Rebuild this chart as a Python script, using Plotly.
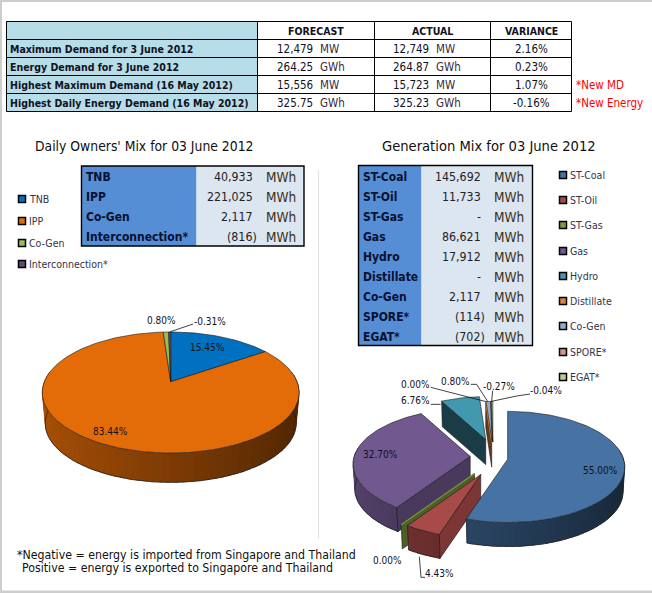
import math
import plotly.graph_objects as go

# ---------- data ----------
table_rows = ["Maximum Demand for 3 June 2012", "Energy Demand for 3 June 2012",
              "Highest Maximum Demand (16 May 2012)", "Highest Daily Energy Demand (16 May 2012)"]
table_heads = ["FORECAST", "ACTUAL", "VARIANCE"]
forecast = ["12,479", "264.25", "15,556", "325.75"]
actual = ["12,749", "264.87", "15,723", "325.23"]
units = ["MW", "GWh", "MW", "GWh"]
variance = ["2.16%", "0.23%", "1.07%", "-0.16%"]
notes = ["", "", "*New MD", "*New Energy"]

owner_names = ["TNB", "IPP", "Co-Gen", "Interconnection*"]
owner_mwh = ["40,933", "221,025", "2,117", "(816)"]
owner_pct = [15.45, 83.44, 0.80, -0.31]
owner_colors = ["#0070C0", "#E36C09", "#9BBB59", "#604A7B"]

gen_names = ["ST-Coal", "ST-Oil", "ST-Gas", "Gas", "Hydro", "Distillate", "Co-Gen", "SPORE*", "EGAT*"]
gen_mwh = ["145,692", "11,733", "-", "86,621", "17,912", "-", "2,117", "(114)", "(702)"]
gen_pct = [55.00, 4.43, 0.00, 32.70, 6.76, 0.00, 0.80, -0.04, -0.27]
gen_colors = ["#4672A4", "#A84A48", "#7E9A3E", "#71588F", "#4198AF", "#DB843D", "#93A9CF", "#D19392", "#B9CD96"]

# ---------- helpers ----------
FONT = "DejaVu Sans Condensed"
INK = "#111122"
fig = go.Figure()
shapes, notes_out = [], []


def text(x, y, s, size=11, color=INK, anchor="left", bold=False):
    notes_out.append(dict(x=x, y=y, xref="x", yref="y", text=f"<b>{s}</b>" if bold else s,
                          showarrow=False, xanchor=anchor, yanchor="middle", borderpad=0,
                          font=dict(family=FONT, size=size, color=color)))


def rect(x0, y0, x1, y1, fill=None, line="#000000", w=1):
    shapes.append(dict(type="rect", x0=x0, y0=y0, x1=x1, y1=y1, xref="x", yref="y",
                       fillcolor=fill or "rgba(0,0,0,0)",
                       line=dict(color=line, width=w) if w else dict(width=0), layer="below"))


def hline(x0, y0, x1, y1, color="#000000", w=1):
    shapes.append(dict(type="line", x0=x0, y0=y0, x1=x1, y1=y1, xref="x", yref="y",
                       line=dict(color=color, width=w), layer="below"))


def shade(hexc, k):
    r, g, b = int(hexc[1:3], 16), int(hexc[3:5], 16), int(hexc[5:7], 16)
    return f"rgb({int(r * k)},{int(g * k)},{int(b * k)})"


def poly(pts, fill, line=None, w=0.6):
    xs = [p[0] for p in pts] + [pts[0][0]]
    ys = [p[1] for p in pts] + [pts[0][1]]
    fig.add_trace(go.Scatter(x=xs, y=ys, mode="lines", fill="toself", fillcolor=fill,
                             line=dict(color=line or fill, width=w), hoverinfo="skip", showlegend=False))


def path(pts, color="#222222", w=0.8):
    fig.add_trace(go.Scatter(x=[p[0] for p in pts], y=[p[1] for p in pts], mode="lines",
                             line=dict(color=color, width=w), hoverinfo="skip", showlegend=False))


class Pie:
    """Tilted pie with perspective; angles clockwise from 12 o'clock, in degrees."""

    def __init__(self, a, b, p, depth, k):
        self.a, self.b, self.p, self.depth, self.k = a, b, p, depth, k
        self.s = 1.0

    def top(self, ang, o):
        t = math.radians(ang)
        f = self.s / (1 + self.p * math.cos(t))
        return (o[0] + self.a * math.sin(t) * f, o[1] - self.b * math.cos(t) * f)

    def low(self, ang, o):
        x, y = self.top(ang, o)
        return (o[0] + (x - o[0]) * self.k, o[1] + (y - o[1]) * self.k + self.depth)

    def arc(self, a0, a1, fn, o):
        n = max(2, int(abs(a1 - a0) / 1.5) + 1)
        return [fn(a0 + (a1 - a0) * i / n, o) for i in range(n + 1)]

    def face(self, a0, a1, o, color):
        poly([o] + self.arc(a0, a1, self.top, o), color, "#1a1a1a", 0.6)

    def wall(self, a0, a1, o, color):
        lo, hi = max(a0, 80), min(a1, 280)
        if hi <= lo:
            return
        n = max(1, int((hi - lo) / 3))
        for i in range(n):
            u0 = lo + (hi - lo) * i / n
            u1 = min(hi, lo + (hi - lo) * (i + 1.6) / n)
            k = 0.55 - 0.2 * math.sin(math.radians(lo + (hi - lo) * (i + 0.5) / n))
            ends = [self.top(u0, o), self.top(u1, o), self.low(u1, o), self.low(u0, o)]
            poly(ends, shade(color, k), shade(color, k), 0.2)
        path(self.arc(lo, hi, self.low, o))
        if lo == a0:
            path([self.top(lo, o), self.low(lo, o)])
        if hi == a1:
            path([self.top(hi, o), self.low(hi, o)])

    def side(self, ang, o, color, k):
        poly([o, self.top(ang, o), self.low(ang, o), (o[0], o[1] + self.depth)], shade(color, k), "#1a1a1a", 0.6)


# ---------- frame ----------
rect(0, 0, 2, 593, "#CDCDCD", w=0)
rect(0, 0, 652, 2, "#CDCDCD", w=0)
rect(0, 590.5, 652, 593, "#CDCDCD", w=0)
hline(318.5, 170, 318.5, 539, "#E4E4E4", 1.2)

# ---------- top table ----------
ty = [21.5, 39.5, 57.5, 75.5, 93.5, 111.5]
tx = [6.5, 257.5, 374.5, 490.5, 571.5]
rect(tx[0], ty[0], tx[1], ty[5], "#B7DDE8", w=0)
for y in ty:
    hline(tx[0], y, tx[4], y)
for x in tx:
    hline(x, ty[0], x, ty[5])
for hd, cx in zip(table_heads, [316, 432, 531]):
    text(cx, 30.5, hd, 10.5, anchor="center", bold=True)
for i, row in enumerate(table_rows):
    y = 48.5 + 18 * i
    text(9, y, row, 10.5, bold=True)
    text(276, y, forecast[i], 11.5)
    text(319, y, units[i], 11.5, "#3a2a40")
    text(392, y, actual[i], 11.5)
    text(435, y, units[i], 11.5, "#3a2a40")
    text(531, y, variance[i], 11.5, anchor="center")
    if notes[i]:
        text(575, y, notes[i], 11.5, "#FF0000")

# ---------- titles ----------
text(143.5, 146, "Daily Owners' Mix for 03 June 2012", 13.8, "#111111", "center")
text(489, 145, "Generation Mix for 03 June 2012", 14.6, "#111111", "center")


# ---------- side tables ----------
def mix_table(x0, split, x1, y0, names, vals, right, unit_x):
    rh = 20
    y1 = y0 + rh * len(names)
    rect(x0, y0, split, y1, "#558ED5", w=0)
    rect(split, y0, x1, y1, "#DCE6F1", w=0)
    rect(x0, y0, x1, y1, None, "#000000", 1.4)
    for i, (n, v) in enumerate(zip(names, vals)):
        y = y0 + rh * (i + 0.5) + 1
        text(x0 + 3, y, n, 12, "#0A1030", bold=True)
        par = v.endswith(")")
        text(right + (4.5 if par else 0), y, v, 12.3, "#222222", "right")
        text(unit_x, y, "MWh", 13.5, "#3a3010")


mix_table(81.5, 196.5, 304, 166, owner_names, owner_mwh, 253.5, 265)
mix_table(358.5, 421.5, 532.5, 165.5, gen_names, gen_mwh, 481.5, 492.5)


# ---------- legends ----------
def legend(x, ys, names, colors):
    for y, n, c in zip(ys, names, colors):
        rect(x, y - 3.5, x + 7, y + 3.5, c, "#000000", 1.5)
        text(x + 9.5, y, n, 10.5, "#33334a")


legend(18.5, [199, 221, 243, 264], owner_names, owner_colors)
legend(559.5, [175, 200, 225, 251, 276, 301, 326, 352, 377], gen_names, gen_colors)

# ---------- owners pie ----------
left = Pie(126.4, 58.6, 0.1785, 31, 0.977)
oL = (170.7, 381.7)
edges, cum = [], 0.0
for v in owner_pct:
    edges.append((cum * 3.6, (cum + abs(v)) * 3.6))
    cum += abs(v)
for (a0, a1), c in zip(edges, owner_colors):
    left.wall(a0, a1, oL, c)
for (a0, a1), c in zip(edges, owner_colors):
    left.face(a0, a1, oL, c)
text(207.5, 347.5, f"{owner_pct[0]:.2f}%", 10, anchor="center")
text(110, 431, f"{owner_pct[1]:.2f}%", 10, anchor="center")
text(161.5, 320, f"{owner_pct[2]:.2f}%", 10, anchor="center")
text(210, 321.5, f"{owner_pct[3]:.2f}%", 10, anchor="center")
path([left.top(edges[3][0] + 0.5, oL), (193, 324)], "#111111", 0.8)

# ---------- generation pie ----------
right = Pie(116, 54.5, 0.14, 25, 0.985)
C = (489, 457)
gedges, cum = [], 0.0
for v in gen_pct:
    gedges.append((cum * 3.6, (cum + abs(v)) * 3.6))
    cum += abs(v)


def origin(i, nudge=(0, 0)):
    mid = math.radians(sum(gedges[i]) / 2)
    return (C[0] + 0.164 * 115 * math.sin(mid) + nudge[0], C[1] - 0.164 * 85 * math.cos(mid) + nudge[1])


nudges = {2: (-4, 5), 1: (0, 5), 4: (2, -4), 5: (4, -1), 6: (4, -1), 7: (4, -1), 8: (4, -1)}
scales = {4: 0.9, 5: 0.85, 6: 0.85, 7: 0.85, 8: 0.85}
O = [origin(i, nudges.get(i, (0, 0))) for i in range(len(gen_pct))]
side_k = {1: 0.74, 2: 0.62, 3: 0.65, 4: 0.4, 5: 0.45}

for i in [3, 2, 1, 4, 5, 6, 7, 8, 0]:
    a0, a1 = gedges[i]
    c = gen_colors[i]
    right.s = scales.get(i, 1.0)
    right.wall(a0, a1, O[i], c)
    if i in side_k:
        right.side(a0, O[i], c, side_k[i])
    if a1 > a0:
        right.face(a0, a1, O[i], c)
    else:
        path([O[i], right.top(a0, O[i])], c, 1.2)


def px(cx, cy):
    return (340 + cx / 3, 370 + cy / 3)


glabels = {0: (781, 302), 1: (298, 610), 2: (142, 571), 3: (121, 254), 4: (227, 92),
           5: (227, 43), 6: (345, 33), 7: (618, 60), 8: (477, 48)}
for i, (cx, cy) in glabels.items():
    x, y = px(cx, cy)
    text(x, y, f"{gen_pct[i]:.2f}%", 10, anchor="center")

right.s = 0.85
path([px(272, 52), right.top(gedges[5][0], O[5])], "#111111", 0.8)
path([px(392, 43), px(410, 43), right.top(gedges[6][0] + 1, O[6])], "#111111", 0.8)
path([px(458, 62), right.top(gedges[8][0] + 0.2, O[8])], "#111111", 0.8)
path([px(570, 72), px(530, 78), right.top(gedges[7][1], O[7])], "#111111", 0.8)
path([px(272, 103), px(302, 103)], "#111111", 0.8)
path([px(238, 560), px(243, 622), px(255, 622)], "#111111", 0.8)

# ---------- footnote ----------
text(16, 555, "*Negative = energy is imported from Singapore and Thailand", 12.25, "#111111")
text(21, 568, "Positive = energy is exported to Singapore and Thailand", 12.25, "#111111")

fig.update_layout(
    width=652, height=593, margin=dict(l=0, r=0, t=0, b=0), autosize=False,
    paper_bgcolor="#FFFFFF", plot_bgcolor="#FFFFFF", showlegend=False,
    xaxis=dict(range=[0, 652], visible=False, fixedrange=True),
    yaxis=dict(range=[593, 0], visible=False, fixedrange=True),
    shapes=shapes, annotations=notes_out,
)
fig.write_html("out.html", config=dict(displayModeBar=False),
               post_script="document.body.style.margin='0';document.body.style.overflow='hidden';")
